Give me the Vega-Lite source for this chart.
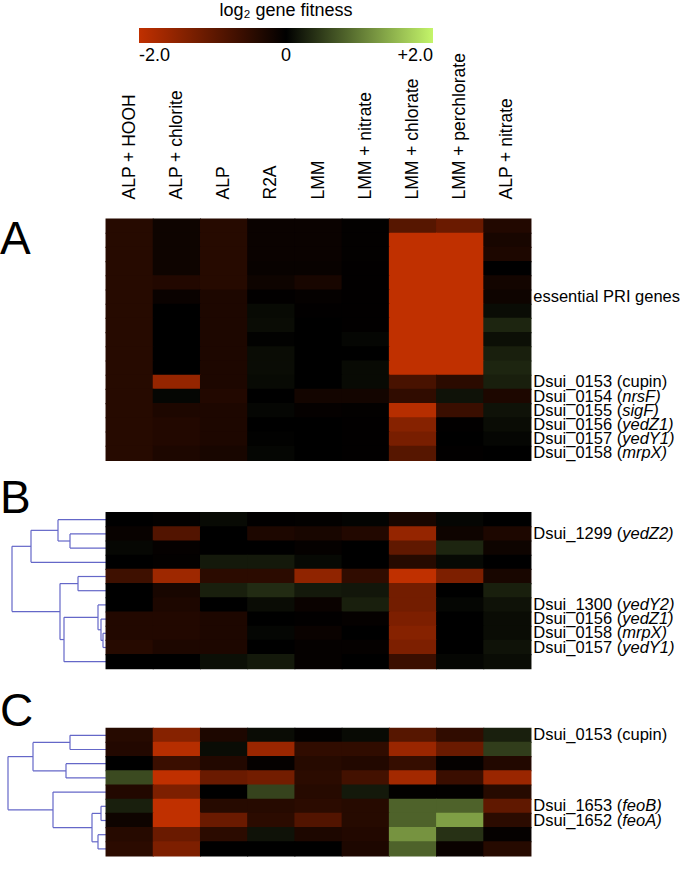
{
"$schema":"https://vega.github.io/schema/vega-lite/v6.json",
"background":"white",
"padding":{"top":2,"left":0,"right":0,"bottom":0},
"autosize":{"type":"pad"},
"config":{"view":{"stroke":null},"font":"Liberation Sans"},
"datasets":{
"conditions":[{"c":1,"condition":"ALP + HOOH"},{"c":2,"condition":"ALP + chlorite"},{"c":3,"condition":"ALP"},{"c":4,"condition":"R2A"},{"c":5,"condition":"LMM"},{"c":6,"condition":"LMM + nitrate"},{"c":7,"condition":"LMM + chlorate"},{"c":8,"condition":"LMM + perchlorate"},{"c":9,"condition":"ALP + nitrate"}],
"labels":[
{"panel":"A","row":6,"plain":"essential PRI genes"},
{"panel":"A","row":12,"plain":"Dsui_0153 (cupin)"},
{"panel":"A","row":13,"locus":"Dsui_0154","gene":"nrsF"},
{"panel":"A","row":14,"locus":"Dsui_0155","gene":"sigF"},
{"panel":"A","row":15,"locus":"Dsui_0156","gene":"yedZ1"},
{"panel":"A","row":16,"locus":"Dsui_0157","gene":"yedY1"},
{"panel":"A","row":17,"locus":"Dsui_0158","gene":"mrpX"},
{"panel":"B","row":2,"locus":"Dsui_1299","gene":"yedZ2"},
{"panel":"B","row":7,"locus":"Dsui_1300","gene":"yedY2"},
{"panel":"B","row":8,"locus":"Dsui_0156","gene":"yedZ1"},
{"panel":"B","row":9,"locus":"Dsui_0158","gene":"mrpX"},
{"panel":"B","row":10,"locus":"Dsui_0157","gene":"yedY1"},
{"panel":"C","row":1,"plain":"Dsui_0153 (cupin)"},
{"panel":"C","row":6,"locus":"Dsui_1653","gene":"feoB"},
{"panel":"C","row":7,"locus":"Dsui_1652","gene":"feoA"}
],
"dendro":[
{"panel":"B","h1":36,"h2":36,"r1":1.5,"r2":2.5},{"panel":"B","h1":0,"h2":36,"r1":1.5,"r2":1.5},{"panel":"B","h1":0,"h2":36,"r1":2.5,"r2":2.5},
{"panel":"B","h1":48,"h2":48,"r1":0.5,"r2":2.0},{"panel":"B","h1":0,"h2":48,"r1":0.5,"r2":0.5},{"panel":"B","h1":36,"h2":48,"r1":2.0,"r2":2.0},
{"panel":"B","h1":75,"h2":75,"r1":1.25,"r2":3.5},{"panel":"B","h1":48,"h2":75,"r1":1.25,"r2":1.25},{"panel":"B","h1":0,"h2":75,"r1":3.5,"r2":3.5},
{"panel":"B","h1":28,"h2":28,"r1":4.5,"r2":5.5},{"panel":"B","h1":0,"h2":28,"r1":4.5,"r2":4.5},{"panel":"B","h1":0,"h2":28,"r1":5.5,"r2":5.5},
{"panel":"B","h1":3,"h2":3,"r1":8.5,"r2":9.5},{"panel":"B","h1":0,"h2":3,"r1":8.5,"r2":8.5},{"panel":"B","h1":0,"h2":3,"r1":9.5,"r2":9.5},
{"panel":"B","h1":5,"h2":5,"r1":7.5,"r2":9.0},{"panel":"B","h1":0,"h2":5,"r1":7.5,"r2":7.5},{"panel":"B","h1":3,"h2":5,"r1":9.0,"r2":9.0},
{"panel":"B","h1":8,"h2":8,"r1":6.5,"r2":8.25},{"panel":"B","h1":0,"h2":8,"r1":6.5,"r2":6.5},{"panel":"B","h1":5,"h2":8,"r1":8.25,"r2":8.25},
{"panel":"B","h1":42,"h2":42,"r1":7.375,"r2":10.5},{"panel":"B","h1":8,"h2":42,"r1":7.375,"r2":7.375},{"panel":"B","h1":0,"h2":42,"r1":10.5,"r2":10.5},
{"panel":"B","h1":46,"h2":46,"r1":5.0,"r2":8.94},{"panel":"B","h1":28,"h2":46,"r1":5.0,"r2":5.0},{"panel":"B","h1":42,"h2":46,"r1":8.94,"r2":8.94},
{"panel":"B","h1":94,"h2":94,"r1":2.375,"r2":6.97},{"panel":"B","h1":75,"h2":94,"r1":2.375,"r2":2.375},{"panel":"B","h1":46,"h2":94,"r1":6.97,"r2":6.97},
{"panel":"C","h1":36,"h2":36,"r1":0.5,"r2":1.5},{"panel":"C","h1":0,"h2":36,"r1":0.5,"r2":0.5},{"panel":"C","h1":0,"h2":36,"r1":1.5,"r2":1.5},
{"panel":"C","h1":40,"h2":40,"r1":2.5,"r2":3.5},{"panel":"C","h1":0,"h2":40,"r1":2.5,"r2":2.5},{"panel":"C","h1":0,"h2":40,"r1":3.5,"r2":3.5},
{"panel":"C","h1":73,"h2":73,"r1":1.0,"r2":3.0},{"panel":"C","h1":36,"h2":73,"r1":1.0,"r2":1.0},{"panel":"C","h1":40,"h2":73,"r1":3.0,"r2":3.0},
{"panel":"C","h1":5,"h2":5,"r1":5.5,"r2":6.5},{"panel":"C","h1":0,"h2":5,"r1":5.5,"r2":5.5},{"panel":"C","h1":0,"h2":5,"r1":6.5,"r2":6.5},
{"panel":"C","h1":8,"h2":8,"r1":7.5,"r2":8.5},{"panel":"C","h1":0,"h2":8,"r1":7.5,"r2":7.5},{"panel":"C","h1":0,"h2":8,"r1":8.5,"r2":8.5},
{"panel":"C","h1":14,"h2":14,"r1":6.0,"r2":8.0},{"panel":"C","h1":5,"h2":14,"r1":6.0,"r2":6.0},{"panel":"C","h1":8,"h2":14,"r1":8.0,"r2":8.0},
{"panel":"C","h1":53,"h2":53,"r1":4.5,"r2":7.0},{"panel":"C","h1":0,"h2":53,"r1":4.5,"r2":4.5},{"panel":"C","h1":14,"h2":53,"r1":7.0,"r2":7.0},
{"panel":"C","h1":98,"h2":98,"r1":2.0,"r2":5.75},{"panel":"C","h1":73,"h2":98,"r1":2.0,"r2":2.0},{"panel":"C","h1":53,"h2":98,"r1":5.75,"r2":5.75}
],
"cells":[
{"panel":"A","row":1,"c":1,"fitness":-0.4},{"panel":"A","row":1,"c":2,"fitness":-0.15},{"panel":"A","row":1,"c":3,"fitness":-0.4},{"panel":"A","row":1,"c":4,"fitness":-0.1},{"panel":"A","row":1,"c":5,"fitness":-0.1},{"panel":"A","row":1,"c":6,"fitness":-0.03},{"panel":"A","row":1,"c":7,"fitness":-0.9},{"panel":"A","row":1,"c":8,"fitness":-1.1},{"panel":"A","row":1,"c":9,"fitness":-0.35},
{"panel":"A","row":2,"c":1,"fitness":-0.4},{"panel":"A","row":2,"c":2,"fitness":-0.15},{"panel":"A","row":2,"c":3,"fitness":-0.4},{"panel":"A","row":2,"c":4,"fitness":-0.1},{"panel":"A","row":2,"c":5,"fitness":-0.1},{"panel":"A","row":2,"c":6,"fitness":-0.03},{"panel":"A","row":2,"c":7,"fitness":-2},{"panel":"A","row":2,"c":8,"fitness":-2},{"panel":"A","row":2,"c":9,"fitness":-0.25},
{"panel":"A","row":3,"c":1,"fitness":-0.4},{"panel":"A","row":3,"c":2,"fitness":-0.15},{"panel":"A","row":3,"c":3,"fitness":-0.4},{"panel":"A","row":3,"c":4,"fitness":-0.1},{"panel":"A","row":3,"c":5,"fitness":-0.1},{"panel":"A","row":3,"c":6,"fitness":-0.03},{"panel":"A","row":3,"c":7,"fitness":-2},{"panel":"A","row":3,"c":8,"fitness":-2},{"panel":"A","row":3,"c":9,"fitness":-0.3},
{"panel":"A","row":4,"c":1,"fitness":-0.4},{"panel":"A","row":4,"c":2,"fitness":-0.15},{"panel":"A","row":4,"c":3,"fitness":-0.4},{"panel":"A","row":4,"c":4,"fitness":-0.08},{"panel":"A","row":4,"c":5,"fitness":-0.08},{"panel":"A","row":4,"c":6,"fitness":-0.02},{"panel":"A","row":4,"c":7,"fitness":-2},{"panel":"A","row":4,"c":8,"fitness":-2},{"panel":"A","row":4,"c":9,"fitness":0},
{"panel":"A","row":5,"c":1,"fitness":-0.4},{"panel":"A","row":5,"c":2,"fitness":-0.35},{"panel":"A","row":5,"c":3,"fitness":-0.4},{"panel":"A","row":5,"c":4,"fitness":-0.15},{"panel":"A","row":5,"c":5,"fitness":-0.25},{"panel":"A","row":5,"c":6,"fitness":-0.02},{"panel":"A","row":5,"c":7,"fitness":-2},{"panel":"A","row":5,"c":8,"fitness":-2},{"panel":"A","row":5,"c":9,"fitness":-0.2},
{"panel":"A","row":6,"c":1,"fitness":-0.4},{"panel":"A","row":6,"c":2,"fitness":-0.1},{"panel":"A","row":6,"c":3,"fitness":-0.3},{"panel":"A","row":6,"c":4,"fitness":-0.02},{"panel":"A","row":6,"c":5,"fitness":-0.05},{"panel":"A","row":6,"c":6,"fitness":-0.02},{"panel":"A","row":6,"c":7,"fitness":-2},{"panel":"A","row":6,"c":8,"fitness":-2},{"panel":"A","row":6,"c":9,"fitness":-0.15},
{"panel":"A","row":7,"c":1,"fitness":-0.4},{"panel":"A","row":7,"c":2,"fitness":0},{"panel":"A","row":7,"c":3,"fitness":-0.3},{"panel":"A","row":7,"c":4,"fitness":0.08},{"panel":"A","row":7,"c":5,"fitness":-0.02},{"panel":"A","row":7,"c":6,"fitness":-0.02},{"panel":"A","row":7,"c":7,"fitness":-2},{"panel":"A","row":7,"c":8,"fitness":-2},{"panel":"A","row":7,"c":9,"fitness":0.1},
{"panel":"A","row":8,"c":1,"fitness":-0.4},{"panel":"A","row":8,"c":2,"fitness":0},{"panel":"A","row":8,"c":3,"fitness":-0.3},{"panel":"A","row":8,"c":4,"fitness":0.1},{"panel":"A","row":8,"c":5,"fitness":0},{"panel":"A","row":8,"c":6,"fitness":-0.02},{"panel":"A","row":8,"c":7,"fitness":-2},{"panel":"A","row":8,"c":8,"fitness":-2},{"panel":"A","row":8,"c":9,"fitness":0.3},
{"panel":"A","row":9,"c":1,"fitness":-0.4},{"panel":"A","row":9,"c":2,"fitness":0},{"panel":"A","row":9,"c":3,"fitness":-0.3},{"panel":"A","row":9,"c":4,"fitness":0.02},{"panel":"A","row":9,"c":5,"fitness":0},{"panel":"A","row":9,"c":6,"fitness":0.05},{"panel":"A","row":9,"c":7,"fitness":-2},{"panel":"A","row":9,"c":8,"fitness":-2},{"panel":"A","row":9,"c":9,"fitness":0.12},
{"panel":"A","row":10,"c":1,"fitness":-0.4},{"panel":"A","row":10,"c":2,"fitness":0},{"panel":"A","row":10,"c":3,"fitness":-0.3},{"panel":"A","row":10,"c":4,"fitness":0.1},{"panel":"A","row":10,"c":5,"fitness":0},{"panel":"A","row":10,"c":6,"fitness":0},{"panel":"A","row":10,"c":7,"fitness":-2},{"panel":"A","row":10,"c":8,"fitness":-2},{"panel":"A","row":10,"c":9,"fitness":0.25},
{"panel":"A","row":11,"c":1,"fitness":-0.4},{"panel":"A","row":11,"c":2,"fitness":0},{"panel":"A","row":11,"c":3,"fitness":-0.3},{"panel":"A","row":11,"c":4,"fitness":0.1},{"panel":"A","row":11,"c":5,"fitness":0},{"panel":"A","row":11,"c":6,"fitness":0.08},{"panel":"A","row":11,"c":7,"fitness":-2},{"panel":"A","row":11,"c":8,"fitness":-2},{"panel":"A","row":11,"c":9,"fitness":0.3},
{"panel":"A","row":12,"c":1,"fitness":-0.4},{"panel":"A","row":12,"c":2,"fitness":-1.55},{"panel":"A","row":12,"c":3,"fitness":-0.3},{"panel":"A","row":12,"c":4,"fitness":0.08},{"panel":"A","row":12,"c":5,"fitness":0},{"panel":"A","row":12,"c":6,"fitness":0.08},{"panel":"A","row":12,"c":7,"fitness":-0.75},{"panel":"A","row":12,"c":8,"fitness":-0.45},{"panel":"A","row":12,"c":9,"fitness":0.25},
{"panel":"A","row":13,"c":1,"fitness":-0.4},{"panel":"A","row":13,"c":2,"fitness":0.05},{"panel":"A","row":13,"c":3,"fitness":-0.35},{"panel":"A","row":13,"c":4,"fitness":0},{"panel":"A","row":13,"c":5,"fitness":-0.2},{"panel":"A","row":13,"c":6,"fitness":-0.2},{"panel":"A","row":13,"c":7,"fitness":-0.5},{"panel":"A","row":13,"c":8,"fitness":0.15},{"panel":"A","row":13,"c":9,"fitness":-0.3},
{"panel":"A","row":14,"c":1,"fitness":-0.4},{"panel":"A","row":14,"c":2,"fitness":-0.3},{"panel":"A","row":14,"c":3,"fitness":-0.3},{"panel":"A","row":14,"c":4,"fitness":0.05},{"panel":"A","row":14,"c":5,"fitness":-0.05},{"panel":"A","row":14,"c":6,"fitness":-0.03},{"panel":"A","row":14,"c":7,"fitness":-1.9},{"panel":"A","row":14,"c":8,"fitness":-0.6},{"panel":"A","row":14,"c":9,"fitness":0.15},
{"panel":"A","row":15,"c":1,"fitness":-0.4},{"panel":"A","row":15,"c":2,"fitness":-0.35},{"panel":"A","row":15,"c":3,"fitness":-0.3},{"panel":"A","row":15,"c":4,"fitness":0},{"panel":"A","row":15,"c":5,"fitness":0},{"panel":"A","row":15,"c":6,"fitness":-0.02},{"panel":"A","row":15,"c":7,"fitness":-1.4},{"panel":"A","row":15,"c":8,"fitness":-0.02},{"panel":"A","row":15,"c":9,"fitness":0.1},
{"panel":"A","row":16,"c":1,"fitness":-0.4},{"panel":"A","row":16,"c":2,"fitness":-0.35},{"panel":"A","row":16,"c":3,"fitness":-0.3},{"panel":"A","row":16,"c":4,"fitness":0.02},{"panel":"A","row":16,"c":5,"fitness":0},{"panel":"A","row":16,"c":6,"fitness":-0.02},{"panel":"A","row":16,"c":7,"fitness":-1.25},{"panel":"A","row":16,"c":8,"fitness":0},{"panel":"A","row":16,"c":9,"fitness":0.05},
{"panel":"A","row":17,"c":1,"fitness":-0.4},{"panel":"A","row":17,"c":2,"fitness":-0.3},{"panel":"A","row":17,"c":3,"fitness":-0.25},{"panel":"A","row":17,"c":4,"fitness":0.05},{"panel":"A","row":17,"c":5,"fitness":0},{"panel":"A","row":17,"c":6,"fitness":-0.02},{"panel":"A","row":17,"c":7,"fitness":-0.9},{"panel":"A","row":17,"c":8,"fitness":-0.02},{"panel":"A","row":17,"c":9,"fitness":0},
{"panel":"B","row":1,"c":1,"fitness":0},{"panel":"B","row":1,"c":2,"fitness":-0.03},{"panel":"B","row":1,"c":3,"fitness":0.08},{"panel":"B","row":1,"c":4,"fitness":-0.02},{"panel":"B","row":1,"c":5,"fitness":-0.03},{"panel":"B","row":1,"c":6,"fitness":0.03},{"panel":"B","row":1,"c":7,"fitness":-0.25},{"panel":"B","row":1,"c":8,"fitness":0.05},{"panel":"B","row":1,"c":9,"fitness":0},
{"panel":"B","row":2,"c":1,"fitness":-0.08},{"panel":"B","row":2,"c":2,"fitness":-0.85},{"panel":"B","row":2,"c":3,"fitness":0},{"panel":"B","row":2,"c":4,"fitness":-0.3},{"panel":"B","row":2,"c":5,"fitness":-0.25},{"panel":"B","row":2,"c":6,"fitness":-0.35},{"panel":"B","row":2,"c":7,"fitness":-1.55},{"panel":"B","row":2,"c":8,"fitness":-0.15},{"panel":"B","row":2,"c":9,"fitness":-0.3},
{"panel":"B","row":3,"c":1,"fitness":0.06},{"panel":"B","row":3,"c":2,"fitness":-0.05},{"panel":"B","row":3,"c":3,"fitness":0},{"panel":"B","row":3,"c":4,"fitness":0},{"panel":"B","row":3,"c":5,"fitness":-0.05},{"panel":"B","row":3,"c":6,"fitness":0},{"panel":"B","row":3,"c":7,"fitness":-1.0},{"panel":"B","row":3,"c":8,"fitness":0.3},{"panel":"B","row":3,"c":9,"fitness":-0.15},
{"panel":"B","row":4,"c":1,"fitness":0},{"panel":"B","row":4,"c":2,"fitness":-0.03},{"panel":"B","row":4,"c":3,"fitness":0.2},{"panel":"B","row":4,"c":4,"fitness":0.2},{"panel":"B","row":4,"c":5,"fitness":0.07},{"panel":"B","row":4,"c":6,"fitness":0},{"panel":"B","row":4,"c":7,"fitness":-0.4},{"panel":"B","row":4,"c":8,"fitness":0.07},{"panel":"B","row":4,"c":9,"fitness":0},
{"panel":"B","row":5,"c":1,"fitness":-0.65},{"panel":"B","row":5,"c":2,"fitness":-1.65},{"panel":"B","row":5,"c":3,"fitness":-0.45},{"panel":"B","row":5,"c":4,"fitness":-0.45},{"panel":"B","row":5,"c":5,"fitness":-1.5},{"panel":"B","row":5,"c":6,"fitness":-0.5},{"panel":"B","row":5,"c":7,"fitness":-2},{"panel":"B","row":5,"c":8,"fitness":-1.3},{"panel":"B","row":5,"c":9,"fitness":-0.25},
{"panel":"B","row":6,"c":1,"fitness":0},{"panel":"B","row":6,"c":2,"fitness":-0.25},{"panel":"B","row":6,"c":3,"fitness":0.25},{"panel":"B","row":6,"c":4,"fitness":0.35},{"panel":"B","row":6,"c":5,"fitness":0.2},{"panel":"B","row":6,"c":6,"fitness":0.18},{"panel":"B","row":6,"c":7,"fitness":-1.2},{"panel":"B","row":6,"c":8,"fitness":0},{"panel":"B","row":6,"c":9,"fitness":0.25},
{"panel":"B","row":7,"c":1,"fitness":0},{"panel":"B","row":7,"c":2,"fitness":-0.3},{"panel":"B","row":7,"c":3,"fitness":0},{"panel":"B","row":7,"c":4,"fitness":0.1},{"panel":"B","row":7,"c":5,"fitness":-0.1},{"panel":"B","row":7,"c":6,"fitness":0.25},{"panel":"B","row":7,"c":7,"fitness":-1.2},{"panel":"B","row":7,"c":8,"fitness":0.05},{"panel":"B","row":7,"c":9,"fitness":0.15},
{"panel":"B","row":8,"c":1,"fitness":-0.35},{"panel":"B","row":8,"c":2,"fitness":-0.35},{"panel":"B","row":8,"c":3,"fitness":-0.3},{"panel":"B","row":8,"c":4,"fitness":0},{"panel":"B","row":8,"c":5,"fitness":-0.02},{"panel":"B","row":8,"c":6,"fitness":-0.05},{"panel":"B","row":8,"c":7,"fitness":-1.3},{"panel":"B","row":8,"c":8,"fitness":0},{"panel":"B","row":8,"c":9,"fitness":0.1},
{"panel":"B","row":9,"c":1,"fitness":-0.35},{"panel":"B","row":9,"c":2,"fitness":-0.35},{"panel":"B","row":9,"c":3,"fitness":-0.3},{"panel":"B","row":9,"c":4,"fitness":0.05},{"panel":"B","row":9,"c":5,"fitness":-0.1},{"panel":"B","row":9,"c":6,"fitness":0},{"panel":"B","row":9,"c":7,"fitness":-1.4},{"panel":"B","row":9,"c":8,"fitness":0},{"panel":"B","row":9,"c":9,"fitness":0.1},
{"panel":"B","row":10,"c":1,"fitness":-0.4},{"panel":"B","row":10,"c":2,"fitness":-0.3},{"panel":"B","row":10,"c":3,"fitness":-0.3},{"panel":"B","row":10,"c":4,"fitness":0},{"panel":"B","row":10,"c":5,"fitness":-0.05},{"panel":"B","row":10,"c":6,"fitness":-0.05},{"panel":"B","row":10,"c":7,"fitness":-1.3},{"panel":"B","row":10,"c":8,"fitness":0},{"panel":"B","row":10,"c":9,"fitness":0.15},
{"panel":"B","row":11,"c":1,"fitness":0},{"panel":"B","row":11,"c":2,"fitness":0},{"panel":"B","row":11,"c":3,"fitness":0.12},{"panel":"B","row":11,"c":4,"fitness":0.2},{"panel":"B","row":11,"c":5,"fitness":-0.05},{"panel":"B","row":11,"c":6,"fitness":0},{"panel":"B","row":11,"c":7,"fitness":-0.6},{"panel":"B","row":11,"c":8,"fitness":0.05},{"panel":"B","row":11,"c":9,"fitness":0.1},
{"panel":"C","row":1,"c":1,"fitness":-0.4},{"panel":"C","row":1,"c":2,"fitness":-1.4},{"panel":"C","row":1,"c":3,"fitness":-0.3},{"panel":"C","row":1,"c":4,"fitness":0.1},{"panel":"C","row":1,"c":5,"fitness":-0.03},{"panel":"C","row":1,"c":6,"fitness":0.08},{"panel":"C","row":1,"c":7,"fitness":-0.9},{"panel":"C","row":1,"c":8,"fitness":-0.5},{"panel":"C","row":1,"c":9,"fitness":0.25},
{"panel":"C","row":2,"c":1,"fitness":-0.35},{"panel":"C","row":2,"c":2,"fitness":-1.9},{"panel":"C","row":2,"c":3,"fitness":0.1},{"panel":"C","row":2,"c":4,"fitness":-1.6},{"panel":"C","row":2,"c":5,"fitness":-0.5},{"panel":"C","row":2,"c":6,"fitness":-0.5},{"panel":"C","row":2,"c":7,"fitness":-1.6},{"panel":"C","row":2,"c":8,"fitness":-1.1},{"panel":"C","row":2,"c":9,"fitness":0.5},
{"panel":"C","row":3,"c":1,"fitness":0},{"panel":"C","row":3,"c":2,"fitness":-0.6},{"panel":"C","row":3,"c":3,"fitness":-0.35},{"panel":"C","row":3,"c":4,"fitness":-0.05},{"panel":"C","row":3,"c":5,"fitness":-0.4},{"panel":"C","row":3,"c":6,"fitness":-0.35},{"panel":"C","row":3,"c":7,"fitness":-0.55},{"panel":"C","row":3,"c":8,"fitness":-0.05},{"panel":"C","row":3,"c":9,"fitness":-0.35},
{"panel":"C","row":4,"c":1,"fitness":0.6},{"panel":"C","row":4,"c":2,"fitness":-2},{"panel":"C","row":4,"c":3,"fitness":-1.1},{"panel":"C","row":4,"c":4,"fitness":-1.2},{"panel":"C","row":4,"c":5,"fitness":-0.45},{"panel":"C","row":4,"c":6,"fitness":-0.7},{"panel":"C","row":4,"c":7,"fitness":-1.7},{"panel":"C","row":4,"c":8,"fitness":-0.6},{"panel":"C","row":4,"c":9,"fitness":-1.6},
{"panel":"C","row":5,"c":1,"fitness":-0.35},{"panel":"C","row":5,"c":2,"fitness":-1.3},{"panel":"C","row":5,"c":3,"fitness":0},{"panel":"C","row":5,"c":4,"fitness":0.55},{"panel":"C","row":5,"c":5,"fitness":-0.4},{"panel":"C","row":5,"c":6,"fitness":0.2},{"panel":"C","row":5,"c":7,"fitness":-0.03},{"panel":"C","row":5,"c":8,"fitness":-0.03},{"panel":"C","row":5,"c":9,"fitness":-0.4},
{"panel":"C","row":6,"c":1,"fitness":0.25},{"panel":"C","row":6,"c":2,"fitness":-2},{"panel":"C","row":6,"c":3,"fitness":-0.4},{"panel":"C","row":6,"c":4,"fitness":-0.4},{"panel":"C","row":6,"c":5,"fitness":-0.45},{"panel":"C","row":6,"c":6,"fitness":-0.4},{"panel":"C","row":6,"c":7,"fitness":0.8},{"panel":"C","row":6,"c":8,"fitness":0.8},{"panel":"C","row":6,"c":9,"fitness":-1.0},
{"panel":"C","row":7,"c":1,"fitness":-0.15},{"panel":"C","row":7,"c":2,"fitness":-2},{"panel":"C","row":7,"c":3,"fitness":-1.1},{"panel":"C","row":7,"c":4,"fitness":-0.45},{"panel":"C","row":7,"c":5,"fitness":-0.85},{"panel":"C","row":7,"c":6,"fitness":-0.4},{"panel":"C","row":7,"c":7,"fitness":0.8},{"panel":"C","row":7,"c":8,"fitness":1.3},{"panel":"C","row":7,"c":9,"fitness":-0.45},
{"panel":"C","row":8,"c":1,"fitness":-0.4},{"panel":"C","row":8,"c":2,"fitness":-1.1},{"panel":"C","row":8,"c":3,"fitness":-0.45},{"panel":"C","row":8,"c":4,"fitness":0.15},{"panel":"C","row":8,"c":5,"fitness":-0.3},{"panel":"C","row":8,"c":6,"fitness":-0.35},{"panel":"C","row":8,"c":7,"fitness":1.2},{"panel":"C","row":8,"c":8,"fitness":0.4},{"panel":"C","row":8,"c":9,"fitness":-0.05},
{"panel":"C","row":9,"c":1,"fitness":-0.45},{"panel":"C","row":9,"c":2,"fitness":-1.3},{"panel":"C","row":9,"c":3,"fitness":0},{"panel":"C","row":9,"c":4,"fitness":0},{"panel":"C","row":9,"c":5,"fitness":0},{"panel":"C","row":9,"c":6,"fitness":-0.3},{"panel":"C","row":9,"c":7,"fitness":0.8},{"panel":"C","row":9,"c":8,"fitness":-0.1},{"panel":"C","row":9,"c":9,"fitness":-0.4}
]
},
"columns":3,
"spacing":{"row":51.6,"column":0},
"bounds":"flush",
"align":"each",
"resolve":{"scale":{"x":"independent","y":"independent","color":"shared"}},
"concat":[
{"width":106,"height":241.4,
"title":{"text":"A","offset":-81,"baseline":"alphabetic","frame":"group","anchor":"start","fontSize":46,"fontWeight":"normal","font":"Liberation Sans","color":"black"},
"data":{"name":"dendro"},"transform":[{"filter":"datum.panel === 'A'"}],
"mark":{"type":"rule","color":"#6467c8","strokeWidth":1.2},
"encoding":{"x":{"field":"h1","type":"quantitative","scale":{"domain":[0,106],"reverse":true},"axis":null},"x2":{"field":"h2"},"y":{"field":"r1","type":"quantitative","scale":{"domain":[0,17],"reverse":true},"axis":null},"y2":{"field":"r2"}}},
{"width":425,"height":241.4,
"data":{"name":"cells"},
"transform":[{"filter":"datum.panel === 'A'"},{"lookup":"c","from":{"data":{"name":"conditions"},"key":"c","fields":["condition"]}}],
"mark":{"type":"rect","height":{"band":1.08},"width":{"band":1.02}},
"encoding":{
"x":{"field":"condition","type":"nominal","scale":{"domain":["ALP + HOOH","ALP + chlorite","ALP","R2A","LMM","LMM + nitrate","LMM + chlorate","LMM + perchlorate","ALP + nitrate"],"paddingInner":0,"paddingOuter":0},
"axis":{"orient":"top","title":null,"labelAngle":270,"labelAlign":"left","labelBaseline":"middle","labelPadding":20,"ticks":false,"tickSize":0,"domain":false,"labelFontSize":17.5,"labelFont":"Liberation Sans","labelColor":"black","labelLimit":300}},
"y":{"field":"row","type":"ordinal","scale":{"domain":[1,2,3,4,5,6,7,8,9,10,11,12,13,14,15,16,17],"paddingInner":0,"paddingOuter":0},"axis":null},
"color":{"field":"fitness","type":"quantitative","scale":{"domain":[-2,0,2],"range":["#c03000","#000000","#c4f56a"],"interpolate":"rgb","clamp":true},
"legend":{"orient":"none","legendX":139,"legendY":-217,"direction":"horizontal","title":"log₂ gene fitness","titleOrient":"top","titleAnchor":"middle","titleFontSize":18,"titleFontWeight":"normal","titleFont":"Liberation Sans","titleColor":"black","titlePadding":8,"gradientLength":294,"gradientThickness":15,"gradientStrokeWidth":0,"values":[-2,0,2],"labelExpr":"datum.value < 0 ? '-2.0' : (datum.value > 0 ? '+2.0' : '0')","labelFontSize":18,"labelFont":"Liberation Sans","labelColor":"black","labelOffset":4,"labelAlign":"center","labelOverlap":false}}
}},
{"width":150,"height":241.4,
"data":{"name":"labels"},"transform":[{"filter":"datum.panel === 'A'"}],
"layer":[
{"transform":[{"filter":"isValid(datum.plain)"}],"mark":{"type":"text","align":"left","baseline":"middle","fontSize":16.5,"font":"Liberation Sans","color":"black"},
"encoding":{"x":{"datum":0.015,"type":"quantitative","scale":{"domain":[0,1]},"axis":null},"y":{"field":"row","type":"ordinal","scale":{"domain":[1,2,3,4,5,6,7,8,9,10,11,12,13,14,15,16,17],"paddingInner":0,"paddingOuter":0},"axis":null},"text":{"field":"plain"}}},
{"transform":[{"filter":"isValid(datum.locus)"},{"calculate":"datum.locus + ' ('","as":"prefix"}],"mark":{"type":"text","align":"right","baseline":"middle","fontSize":16.5,"font":"Liberation Sans","color":"black"},
"encoding":{"x":{"datum":0.608,"type":"quantitative"},"y":{"field":"row","type":"ordinal"},"text":{"field":"prefix"}}},
{"transform":[{"filter":"isValid(datum.locus)"},{"calculate":"datum.gene + ')'","as":"gtext"}],"mark":{"type":"text","align":"left","baseline":"middle","fontSize":16.5,"font":"Liberation Sans","fontStyle":"italic","color":"black"},
"encoding":{"x":{"datum":0.608,"type":"quantitative"},"y":{"field":"row","type":"ordinal"},"text":{"field":"gtext"}}}
]},
{"width":106,"height":163.4,
"title":{"text":"B","offset":-46,"baseline":"alphabetic","frame":"group","anchor":"start","fontSize":46,"fontWeight":"normal","font":"Liberation Sans","color":"black"},
"data":{"name":"dendro"},"transform":[{"filter":"datum.panel === 'B'"}],
"mark":{"type":"rule","color":"#6467c8","strokeWidth":1.2},
"encoding":{"x":{"field":"h1","type":"quantitative","scale":{"domain":[0,106],"reverse":true},"axis":null},"x2":{"field":"h2"},"y":{"field":"r1","type":"quantitative","scale":{"domain":[0,11.507],"reverse":true},"axis":null},"y2":{"field":"r2"}}},
{"width":425,"height":156.2,
"data":{"name":"cells"},
"transform":[{"filter":"datum.panel === 'B'"},{"lookup":"c","from":{"data":{"name":"conditions"},"key":"c","fields":["condition"]}}],
"mark":{"type":"rect","height":{"band":1.08},"width":{"band":1.02}},
"encoding":{
"x":{"field":"condition","type":"nominal","scale":{"domain":["ALP + HOOH","ALP + chlorite","ALP","R2A","LMM","LMM + nitrate","LMM + chlorate","LMM + perchlorate","ALP + nitrate"],"paddingInner":0,"paddingOuter":0},"axis":null},
"y":{"field":"row","type":"ordinal","scale":{"domain":[1,2,3,4,5,6,7,8,9,10,11],"paddingInner":0,"paddingOuter":0},"axis":null},
"color":{"field":"fitness","type":"quantitative","scale":{"domain":[-2,0,2],"range":["#c03000","#000000","#c4f56a"],"interpolate":"rgb","clamp":true},
"legend":{"orient":"none","legendX":139,"legendY":-217,"direction":"horizontal","title":"log₂ gene fitness","titleOrient":"top","titleAnchor":"middle","titleFontSize":18,"titleFontWeight":"normal","titleFont":"Liberation Sans","titleColor":"black","titlePadding":8,"gradientLength":294,"gradientThickness":15,"gradientStrokeWidth":0,"values":[-2,0,2],"labelExpr":"datum.value < 0 ? '-2.0' : (datum.value > 0 ? '+2.0' : '0')","labelFontSize":18,"labelFont":"Liberation Sans","labelColor":"black","labelOffset":4,"labelAlign":"center","labelOverlap":false}}
}},
{"width":150,"height":156.2,
"data":{"name":"labels"},"transform":[{"filter":"datum.panel === 'B'"}],
"layer":[
{"transform":[{"filter":"isValid(datum.plain)"}],"mark":{"type":"text","align":"left","baseline":"middle","fontSize":16.5,"font":"Liberation Sans","color":"black"},
"encoding":{"x":{"datum":0.015,"type":"quantitative","scale":{"domain":[0,1]},"axis":null},"y":{"field":"row","type":"ordinal","scale":{"domain":[1,2,3,4,5,6,7,8,9,10,11],"paddingInner":0,"paddingOuter":0},"axis":null},"text":{"field":"plain"}}},
{"transform":[{"filter":"isValid(datum.locus)"},{"calculate":"datum.locus + ' ('","as":"prefix"}],"mark":{"type":"text","align":"right","baseline":"middle","fontSize":16.5,"font":"Liberation Sans","color":"black"},
"encoding":{"x":{"datum":0.608,"type":"quantitative"},"y":{"field":"row","type":"ordinal"},"text":{"field":"prefix"}}},
{"transform":[{"filter":"isValid(datum.locus)"},{"calculate":"datum.gene + ')'","as":"gtext"}],"mark":{"type":"text","align":"left","baseline":"middle","fontSize":16.5,"font":"Liberation Sans","fontStyle":"italic","color":"black"},
"encoding":{"x":{"datum":0.608,"type":"quantitative"},"y":{"field":"row","type":"ordinal"},"text":{"field":"gtext"}}}
]},
{"width":106,"height":127.8,
"title":{"text":"C","offset":-44,"baseline":"alphabetic","frame":"group","anchor":"start","fontSize":46,"fontWeight":"normal","font":"Liberation Sans","color":"black"},
"data":{"name":"dendro"},"transform":[{"filter":"datum.panel === 'C'"}],
"mark":{"type":"rule","color":"#6467c8","strokeWidth":1.2},
"encoding":{"x":{"field":"h1","type":"quantitative","scale":{"domain":[0,106],"reverse":true},"axis":null},"x2":{"field":"h2"},"y":{"field":"r1","type":"quantitative","scale":{"domain":[0,9],"reverse":true},"axis":null},"y2":{"field":"r2"}}},
{"width":425,"height":127.8,
"data":{"name":"cells"},
"transform":[{"filter":"datum.panel === 'C'"},{"lookup":"c","from":{"data":{"name":"conditions"},"key":"c","fields":["condition"]}}],
"mark":{"type":"rect","height":{"band":1.08},"width":{"band":1.02}},
"encoding":{
"x":{"field":"condition","type":"nominal","scale":{"domain":["ALP + HOOH","ALP + chlorite","ALP","R2A","LMM","LMM + nitrate","LMM + chlorate","LMM + perchlorate","ALP + nitrate"],"paddingInner":0,"paddingOuter":0},"axis":null},
"y":{"field":"row","type":"ordinal","scale":{"domain":[1,2,3,4,5,6,7,8,9],"paddingInner":0,"paddingOuter":0},"axis":null},
"color":{"field":"fitness","type":"quantitative","scale":{"domain":[-2,0,2],"range":["#c03000","#000000","#c4f56a"],"interpolate":"rgb","clamp":true},
"legend":{"orient":"none","legendX":139,"legendY":-217,"direction":"horizontal","title":"log₂ gene fitness","titleOrient":"top","titleAnchor":"middle","titleFontSize":18,"titleFontWeight":"normal","titleFont":"Liberation Sans","titleColor":"black","titlePadding":8,"gradientLength":294,"gradientThickness":15,"gradientStrokeWidth":0,"values":[-2,0,2],"labelExpr":"datum.value < 0 ? '-2.0' : (datum.value > 0 ? '+2.0' : '0')","labelFontSize":18,"labelFont":"Liberation Sans","labelColor":"black","labelOffset":4,"labelAlign":"center","labelOverlap":false}}
}},
{"width":150,"height":127.8,
"data":{"name":"labels"},"transform":[{"filter":"datum.panel === 'C'"}],
"layer":[
{"transform":[{"filter":"isValid(datum.plain)"}],"mark":{"type":"text","align":"left","baseline":"middle","fontSize":16.5,"font":"Liberation Sans","color":"black"},
"encoding":{"x":{"datum":0.015,"type":"quantitative","scale":{"domain":[0,1]},"axis":null},"y":{"field":"row","type":"ordinal","scale":{"domain":[1,2,3,4,5,6,7,8,9],"paddingInner":0,"paddingOuter":0},"axis":null},"text":{"field":"plain"}}},
{"transform":[{"filter":"isValid(datum.locus)"},{"calculate":"datum.locus + ' ('","as":"prefix"}],"mark":{"type":"text","align":"right","baseline":"middle","fontSize":16.5,"font":"Liberation Sans","color":"black"},
"encoding":{"x":{"datum":0.608,"type":"quantitative"},"y":{"field":"row","type":"ordinal"},"text":{"field":"prefix"}}},
{"transform":[{"filter":"isValid(datum.locus)"},{"calculate":"datum.gene + ')'","as":"gtext"}],"mark":{"type":"text","align":"left","baseline":"middle","fontSize":16.5,"font":"Liberation Sans","fontStyle":"italic","color":"black"},
"encoding":{"x":{"datum":0.608,"type":"quantitative"},"y":{"field":"row","type":"ordinal"},"text":{"field":"gtext"}}}
]}
]
}
